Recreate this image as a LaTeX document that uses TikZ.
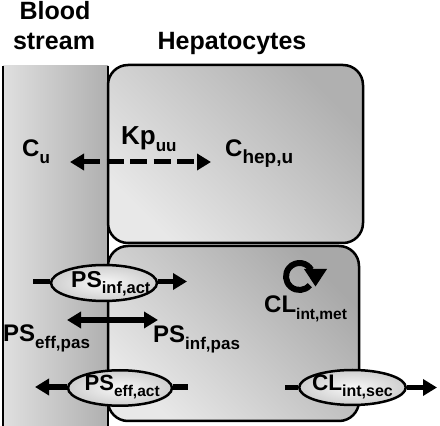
\documentclass[tikz,border=0pt]{standalone}
\usepackage{fontspec}
\setmainfont{Liberation Sans}
\usetikzlibrary{arrows.meta,shapes.geometric,calc}
\newcommand{\sublbl}[3][17]{#2\raisebox{-6.5pt}{\fontsize{#1}{#1}\selectfont #3}}
\begin{document}
\begin{tikzpicture}[x=1pt,y=1pt,
  font=\bfseries\fontsize{24}{24}\selectfont,
  title/.style={anchor=base,inner sep=0pt,font=\bfseries\fontsize{25}{25}\selectfont},
  lbl/.style={anchor=base west,inner sep=0pt},
  box/.style={draw,line width=2.5pt,rounded corners=20pt},
  tip/.tip={Triangle[length=14pt,width=16pt]},
  arr/.style={line width=5.5pt,-tip},
  darr/.style={line width=5.5pt,tip-tip},
  stub/.style={line width=5.5pt},
  ell/.style={ellipse,draw,line width=2.5pt,inner sep=0pt,inner color=gray!6,outer color=gray!38}]
\useasboundingbox (0,0) rectangle (440,426);
% blood stream
\shade[left color=gray!25,right color=gray!62] (3,0) rectangle (108,360);
% hepatocytes
\path[box,top color=gray!62,bottom color=gray!18,shading angle=-45] (108,183) rectangle (363,361);
\path[box,top color=gray!68,bottom color=gray!18,shading angle=-45] (108,5) rectangle (359,180);
% blood stream walls
\draw[line width=2.5pt] (3,0) -- (3,360);
\draw[line width=2.5pt] (108,0) -- (108,360);
% titles
\node[title] (blood) at (55,406.5) {Blood};
\node[title] (stream) at (54,376) {stream};
\node[title] (hep) at (232,376) {Hepatocytes};
% Kp_uu
\node[lbl] (cu) at (22,269) {\sublbl{C}{u}};
\node[lbl,font=\bfseries\fontsize{26}{26}\selectfont] (kp) at (121,281) {\sublbl{Kp}{uu}};
\node[lbl] (chep) at (225,269) {\sublbl[19]{C}{hep,u}};
\coordinate (kpL) at (70,264);
\coordinate (kpR) at (211,264);
\draw[darr,line width=5pt,dash pattern=on 17pt off 6.5pt] (kpL) -- (kpR);
% PS inf,act
\node[ell,minimum width=106pt,minimum height=36pt] (psia) at (104,143) {};
\node[lbl,font=\bfseries\fontsize{23}{23}\selectfont] (psiat) at (71,138.5) {\sublbl[16.5]{PS}{inf,act}};
\coordinate (psiaL) at (33,144.5);
\coordinate (psiaR) at (187,144.5);
\draw[stub] (psiaL) -- (psiaL -| psia.west);
\draw[arr] (psia.east |- psiaR) -- (psiaR);
% passive
\coordinate (pasL) at (67,106);
\coordinate (pasR) at (158,106);
\draw[darr] (pasL) -- (pasR);
\node[lbl] (psep) at (3,84) {\sublbl{PS}{eff,pas}};
\node[lbl] (psip) at (153,83) {\sublbl{PS}{inf,pas}};
% metabolism
\coordinate (rot) at (299.5,149.5);
\draw[line width=6pt] ($(rot)+(-40:13.5)$) arc[start angle=-40,end angle=-330,radius=13.5];
\fill (304,157) -- (327,157) -- (315.5,139.5) -- cycle;
\node[lbl] (clm) at (264,113) {\sublbl[15.5]{CL}{int,met}};
% PS eff,act
\node[ell,minimum width=104pt,minimum height=35.5pt] (psea) at (120,38) {};
\node[lbl,font=\bfseries\fontsize{22}{22}\selectfont] (pseat) at (84.5,35.5) {\sublbl[15.5]{PS}{eff,act}};
\coordinate (pseaL) at (35,39);
\coordinate (pseaR) at (188,39);
\draw[arr] (psea.west |- pseaL) -- (pseaL);
\draw[stub] (psea.east |- pseaR) -- (pseaR);
% CL int,sec
\node[ell,minimum width=106.5pt,minimum height=35pt] (clis) at (352.5,38.5) {};
\node[lbl,font=\bfseries\fontsize{22.5}{22.5}\selectfont] (clist) at (312,35.5) {\sublbl[16]{CL}{int,sec}};
\coordinate (clisL) at (285,38.5);
\coordinate (clisR) at (437,38.5);
\draw[stub] (clisL) -- (clis.west);
\draw[arr] (clis.east) -- (clisR);
\end{tikzpicture}
\end{document}
